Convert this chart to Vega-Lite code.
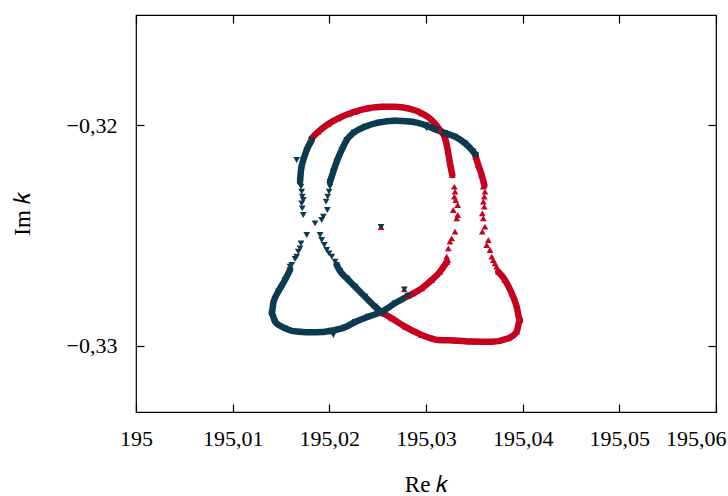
{
  "$schema": "https://vega.github.io/schema/vega-lite/v6.json",
  "width": 580,
  "height": 397,
  "autosize": {"type": "none"},
  "padding": {"left": 136, "top": 15, "right": 12, "bottom": 84},
  "background": "white",
  "config": {
    "view": {"stroke": "#000", "strokeWidth": 1.2},
    "font": "Liberation Serif",
    "axis": {"grid": false, "domain": false, "tickColor": "#000", "tickWidth": 1.2, "labelFont": "Liberation Serif", "titleFont": "Liberation Serif", "labelFontSize": 22, "titleFontSize": 23, "labelColor": "#000", "titleColor": "#000", "titleFontWeight": "normal"}
  },
  "data": {"values": [
    {"s":"R","g":"r1","o":1,"x":195.01818,"y":-0.32059},
    {"s":"R","g":"r1","o":2,"x":195.01886,"y":-0.320291},
    {"s":"R","g":"r1","o":3,"x":195.01989,"y":-0.319942},
    {"s":"R","g":"r1","o":4,"x":195.02093,"y":-0.319684},
    {"s":"R","g":"r1","o":5,"x":195.02196,"y":-0.319489},
    {"s":"R","g":"r1","o":6,"x":195.02266,"y":-0.319384},
    {"s":"R","g":"r1","o":7,"x":195.02403,"y":-0.31923},
    {"s":"R","g":"r1","o":8,"x":195.02542,"y":-0.319158},
    {"s":"R","g":"r1","o":9,"x":195.02679,"y":-0.319158},
    {"s":"R","g":"r1","o":10,"x":195.02817,"y":-0.31923},
    {"s":"R","g":"r1","o":11,"x":195.02956,"y":-0.319457},
    {"s":"R","g":"r1","o":12,"x":195.03059,"y":-0.319761},
    {"s":"R","g":"r1","o":13,"x":195.03145,"y":-0.320214},
    {"s":"R","g":"r1","o":14,"x":195.03197,"y":-0.320577},
    {"s":"R","g":"r1","o":15,"x":195.03225,"y":-0.321121},
    {"s":"R","g":"r1","o":16,"x":195.03248,"y":-0.321724},
    {"s":"R","g":"r1","o":17,"x":195.03272,"y":-0.322254},
    {"s":"R","g":"p","o":1,"x":195.03293,"y":-0.322785},
    {"s":"R","g":"p","o":2,"x":195.033,"y":-0.323012},
    {"s":"R","g":"p","o":3,"x":195.03293,"y":-0.323238},
    {"s":"R","g":"p","o":4,"x":195.03307,"y":-0.323388},
    {"s":"R","g":"p","o":5,"x":195.03328,"y":-0.323615},
    {"s":"R","g":"p","o":6,"x":195.03282,"y":-0.323841},
    {"s":"R","g":"p","o":7,"x":195.03328,"y":-0.324068},
    {"s":"R","g":"p","o":8,"x":195.03318,"y":-0.324218},
    {"s":"R","g":"p","o":9,"x":195.033,"y":-0.324825},
    {"s":"R","g":"p","o":10,"x":195.03266,"y":-0.325124},
    {"s":"R","g":"p","o":11,"x":195.03248,"y":-0.325278},
    {"s":"R","g":"p","o":12,"x":195.03231,"y":-0.325578},
    {"s":"R","g":"p","o":13,"x":195.03214,"y":-0.325959},
    {"s":"R","g":"p","o":14,"x":195.03225,"y":-0.326108},
    {"s":"R","g":"r2","o":1,"x":195.03214,"y":-0.326199},
    {"s":"R","g":"r2","o":2,"x":195.03145,"y":-0.326639},
    {"s":"R","g":"r2","o":3,"x":195.03059,"y":-0.327015},
    {"s":"R","g":"r2","o":4,"x":195.02956,"y":-0.327392},
    {"s":"R","g":"r2","o":5,"x":195.02869,"y":-0.327618},
    {"s":"R","g":"r2","o":6,"x":195.02814,"y":-0.327741},
    {"s":"R","g":"r3","o":1,"x":195.02558,"y":-0.328525},
    {"s":"R","g":"r3","o":2,"x":195.02645,"y":-0.328752},
    {"s":"R","g":"r3","o":3,"x":195.02783,"y":-0.329132},
    {"s":"R","g":"r3","o":4,"x":195.02956,"y":-0.329509},
    {"s":"R","g":"r3","o":5,"x":195.03127,"y":-0.329736},
    {"s":"R","g":"r3","o":6,"x":195.033,"y":-0.329758},
    {"s":"R","g":"r3","o":7,"x":195.03473,"y":-0.329804},
    {"s":"R","g":"r3","o":8,"x":195.0368,"y":-0.329813},
    {"s":"R","g":"r3","o":9,"x":195.03851,"y":-0.329658},
    {"s":"R","g":"r3","o":10,"x":195.03938,"y":-0.329359},
    {"s":"R","g":"r3","o":11,"x":195.03972,"y":-0.328829},
    {"s":"R","g":"r3","o":12,"x":195.03938,"y":-0.328226},
    {"s":"R","g":"r3","o":13,"x":195.03887,"y":-0.327618},
    {"s":"R","g":"r3","o":14,"x":195.03817,"y":-0.327015},
    {"s":"R","g":"r3","o":15,"x":195.03748,"y":-0.326639},
    {"s":"R","g":"p","o":15,"x":195.03593,"y":-0.322785},
    {"s":"R","g":"p","o":16,"x":195.0361,"y":-0.323012},
    {"s":"R","g":"p","o":17,"x":195.03603,"y":-0.323238},
    {"s":"R","g":"p","o":18,"x":195.03593,"y":-0.323465},
    {"s":"R","g":"p","o":19,"x":195.03603,"y":-0.323692},
    {"s":"R","g":"p","o":20,"x":195.03582,"y":-0.323991},
    {"s":"R","g":"p","o":21,"x":195.03593,"y":-0.324218},
    {"s":"R","g":"p","o":22,"x":195.0361,"y":-0.324599},
    {"s":"R","g":"p","o":23,"x":195.03582,"y":-0.324825},
    {"s":"R","g":"p","o":24,"x":195.03645,"y":-0.325202},
    {"s":"R","g":"p","o":25,"x":195.03628,"y":-0.325428},
    {"s":"R","g":"p","o":26,"x":195.03662,"y":-0.325655},
    {"s":"R","g":"p","o":27,"x":195.0368,"y":-0.325959},
    {"s":"R","g":"p","o":28,"x":195.03696,"y":-0.326108},
    {"s":"R","g":"p","o":29,"x":195.03714,"y":-0.326258},
    {"s":"R","g":"p","o":30,"x":195.03731,"y":-0.326412},
    {"s":"R","g":"r4","o":1,"x":195.03603,"y":-0.322708},
    {"s":"R","g":"r4","o":2,"x":195.03576,"y":-0.322254},
    {"s":"R","g":"r4","o":3,"x":195.03541,"y":-0.321801},
    {"s":"R","g":"r4","o":4,"x":195.03514,"y":-0.321425},
    {"s":"R","g":"p","o":31,"x":195.02535,"y":-0.324612},
    {"s":"R","g":"p","o":32,"x":195.02776,"y":-0.327437},
    {"s":"B","g":"b1","o":1,"x":195.03514,"y":-0.321348},
    {"s":"B","g":"b1","o":2,"x":195.03489,"y":-0.321198},
    {"s":"B","g":"b1","o":3,"x":195.03404,"y":-0.320817},
    {"s":"B","g":"b1","o":4,"x":195.033,"y":-0.320518},
    {"s":"B","g":"b1","o":5,"x":195.03197,"y":-0.32035},
    {"s":"B","g":"b1","o":6,"x":195.03111,"y":-0.320214},
    {"s":"B","g":"b1","o":7,"x":195.0299,"y":-0.319987},
    {"s":"B","g":"b1","o":8,"x":195.02852,"y":-0.319838},
    {"s":"B","g":"b1","o":9,"x":195.02679,"y":-0.319792},
    {"s":"B","g":"b1","o":10,"x":195.02507,"y":-0.319883},
    {"s":"B","g":"b1","o":11,"x":195.02369,"y":-0.320064},
    {"s":"B","g":"b1","o":12,"x":195.02255,"y":-0.320327},
    {"s":"B","g":"b1","o":13,"x":195.0218,"y":-0.320668},
    {"s":"B","g":"b1","o":14,"x":195.02128,"y":-0.321121},
    {"s":"B","g":"b1","o":15,"x":195.02076,"y":-0.321651},
    {"s":"B","g":"b1","o":16,"x":195.02041,"y":-0.322105},
    {"s":"B","g":"b1","o":17,"x":195.02007,"y":-0.322558},
    {"s":"B","g":"p","o":1,"x":195.02007,"y":-0.322785},
    {"s":"B","g":"p","o":2,"x":195.01997,"y":-0.323012},
    {"s":"B","g":"p","o":3,"x":195.01983,"y":-0.323238},
    {"s":"B","g":"p","o":4,"x":195.01966,"y":-0.323465},
    {"s":"B","g":"p","o":5,"x":195.01979,"y":-0.323841},
    {"s":"B","g":"p","o":6,"x":195.01938,"y":-0.324145},
    {"s":"B","g":"p","o":7,"x":195.01921,"y":-0.324295},
    {"s":"B","g":"p","o":8,"x":195.01852,"y":-0.324444},
    {"s":"B","g":"p","o":9,"x":195.01904,"y":-0.324975},
    {"s":"B","g":"p","o":10,"x":195.01921,"y":-0.325202},
    {"s":"B","g":"p","o":11,"x":195.01948,"y":-0.325428},
    {"s":"B","g":"p","o":12,"x":195.01973,"y":-0.325655},
    {"s":"B","g":"p","o":13,"x":195.01997,"y":-0.325805},
    {"s":"B","g":"p","o":14,"x":195.02025,"y":-0.325959},
    {"s":"B","g":"p","o":15,"x":195.02059,"y":-0.326185},
    {"s":"B","g":"b2","o":1,"x":195.02076,"y":-0.326335},
    {"s":"B","g":"b2","o":2,"x":195.0211,"y":-0.326607},
    {"s":"B","g":"b2","o":3,"x":195.0218,"y":-0.326938},
    {"s":"B","g":"b2","o":4,"x":195.02266,"y":-0.327319},
    {"s":"B","g":"b2","o":5,"x":195.02369,"y":-0.327772},
    {"s":"B","g":"b2","o":6,"x":195.02473,"y":-0.328226},
    {"s":"B","g":"b2","o":7,"x":195.02558,"y":-0.328525},
    {"s":"B","g":"b3","o":1,"x":195.02814,"y":-0.327741},
    {"s":"B","g":"b3","o":2,"x":195.02679,"y":-0.328072},
    {"s":"B","g":"b3","o":3,"x":195.02542,"y":-0.328452},
    {"s":"B","g":"b3","o":4,"x":195.02403,"y":-0.328679},
    {"s":"B","g":"b3","o":5,"x":195.02266,"y":-0.328919},
    {"s":"B","g":"b3","o":6,"x":195.02162,"y":-0.32916},
    {"s":"B","g":"b3","o":7,"x":195.02025,"y":-0.329314},
    {"s":"B","g":"b3","o":8,"x":195.01852,"y":-0.329386},
    {"s":"B","g":"b3","o":9,"x":195.01679,"y":-0.329359},
    {"s":"B","g":"b3","o":10,"x":195.01541,"y":-0.329205},
    {"s":"B","g":"b3","o":11,"x":195.01438,"y":-0.328906},
    {"s":"B","g":"b3","o":12,"x":195.01404,"y":-0.328525},
    {"s":"B","g":"b3","o":13,"x":195.0142,"y":-0.328072},
    {"s":"B","g":"b3","o":14,"x":195.01472,"y":-0.327546},
    {"s":"B","g":"b3","o":15,"x":195.01541,"y":-0.327015},
    {"s":"B","g":"b3","o":16,"x":195.01593,"y":-0.326562},
    {"s":"B","g":"p","o":16,"x":195.01593,"y":-0.326412},
    {"s":"B","g":"p","o":17,"x":195.01611,"y":-0.326335},
    {"s":"B","g":"p","o":18,"x":195.01645,"y":-0.326063},
    {"s":"B","g":"p","o":19,"x":195.01662,"y":-0.325959},
    {"s":"B","g":"p","o":20,"x":195.01679,"y":-0.325732},
    {"s":"B","g":"p","o":21,"x":195.01697,"y":-0.325578},
    {"s":"B","g":"p","o":22,"x":195.01707,"y":-0.325351},
    {"s":"B","g":"p","o":23,"x":195.01766,"y":-0.324975},
    {"s":"B","g":"p","o":24,"x":195.01731,"y":-0.324068},
    {"s":"B","g":"p","o":25,"x":195.0172,"y":-0.323764},
    {"s":"B","g":"p","o":26,"x":195.01714,"y":-0.323538},
    {"s":"B","g":"p","o":27,"x":195.01731,"y":-0.323388},
    {"s":"B","g":"p","o":28,"x":195.0172,"y":-0.323238},
    {"s":"B","g":"p","o":29,"x":195.01714,"y":-0.323012},
    {"s":"B","g":"p","o":30,"x":195.01707,"y":-0.322785},
    {"s":"B","g":"p","o":31,"x":195.01662,"y":-0.321574},
    {"s":"B","g":"p","o":32,"x":195.02041,"y":-0.329509},
    {"s":"B","g":"p","o":33,"x":195.03007,"y":-0.320137},
    {"s":"B","g":"b4","o":1,"x":195.01697,"y":-0.322558},
    {"s":"B","g":"b4","o":2,"x":195.01707,"y":-0.322028},
    {"s":"B","g":"b4","o":3,"x":195.01731,"y":-0.321574},
    {"s":"B","g":"b4","o":4,"x":195.01766,"y":-0.321121},
    {"s":"B","g":"b4","o":5,"x":195.01818,"y":-0.320668},
    {"s":"B","g":"p","o":34,"x":195.02535,"y":-0.324612},
    {"s":"B","g":"p","o":35,"x":195.02776,"y":-0.327437}
  ]},
  "layer": [
    {
      "transform": [{"filter": "datum.g != 'p'"}],
      "mark": {"type": "line", "strokeWidth": 6.5, "strokeCap": "round", "strokeJoin": "round", "interpolate": "monotone"},
      "encoding": {
        "x": {"field": "x", "type": "quantitative", "scale": {"domain": [195, 195.06], "nice": false, "zero": false},
              "axis": {"orient": "bottom", "values": [195, 195.01, 195.02, 195.03, 195.04, 195.05, 195.06], "labelExpr": "replace(format(datum.value, '~r'), '.', ',')", "labelFont": "Liberation Serif", "labelFontSize": 22, "titleFont": "Liberation Serif", "titleFontSize": 23, "tickSize": -8, "labelPadding": 24, "title": "Re 𝑘", "titlePadding": 24, "labelFlush": false,
                       "labelAlign": {"condition": {"test": "datum.value > 195.055", "value": "right"}, "value": "center"},
                       "labelOffset": {"condition": {"test": "datum.value > 195.055", "value": 10}, "value": 0}}},
        "y": {"field": "y", "type": "quantitative", "scale": {"domain": [-0.333, -0.315], "nice": false, "zero": false},
              "axis": {"orient": "left", "values": [-0.33, -0.32], "labelExpr": "replace(format(datum.value, '.2f'), '.', ',')", "labelFont": "Liberation Serif", "labelFontSize": 22, "titleFont": "Liberation Serif", "titleFontSize": 23, "tickSize": -8, "labelPadding": 27, "title": "Im 𝑘", "titlePadding": 32}},
        "color": {"field": "s", "type": "nominal", "scale": {"domain": ["R", "B"], "range": ["#c6001f", "#0c3a4e"]}, "legend": null},
        "detail": {"field": "g"},
        "order": {"field": "o", "type": "quantitative"}
      }
    },
    {
      "mark": {"type": "point", "filled": true, "opacity": 1, "size": 45, "strokeWidth": 0},
      "encoding": {
        "x": {"field": "x", "type": "quantitative", "axis": {"orient": "top", "values": [195, 195.01, 195.02, 195.03, 195.04, 195.05, 195.06], "labels": false, "title": null, "tickSize": -8}},
        "y": {"field": "y", "type": "quantitative", "axis": {"orient": "right", "values": [-0.33, -0.32], "labels": false, "title": null, "tickSize": -8}},
        "color": {"field": "s", "type": "nominal", "legend": null},
        "shape": {"field": "s", "type": "nominal", "scale": {"domain": ["R", "B"], "range": ["triangle-up", "triangle-down"]}, "legend": null}
      }
    }
  ]
}
